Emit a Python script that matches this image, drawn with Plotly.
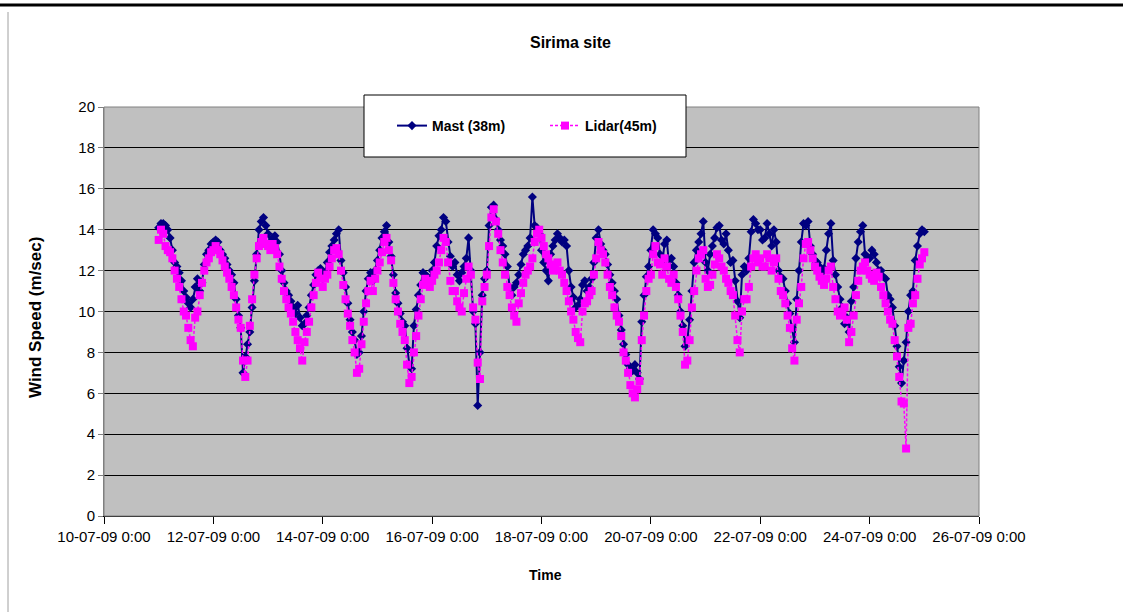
import plotly.graph_objects as go
import pandas as pd

# ---- data (hourly readings from 11-07-09 00:00) ----
start_time = "2009-07-11 00:00"
step = "1h"

mast_38m = [
    14.1, 14.3, 14.3, 14.2, 14.0, 13.6, 13.0, 12.4, 12.2, 11.9, 11.5, 11.0,
    10.7, 10.4, 10.2, 10.6, 11.2, 11.6, 11.0, 11.4, 12.3, 12.8, 13.0, 13.3,   # 11-07
    13.4, 13.5, 13.4, 13.0, 12.8, 12.6, 12.3, 12.0, 11.8, 11.4, 10.6, 9.8,
    9.2, 7.0, 7.8, 8.4, 9.0, 10.2, 11.5, 12.8, 14.0, 14.4, 14.6, 14.2,        # 12-07
    13.8, 13.4, 13.6, 13.7, 13.4, 12.8, 12.0, 11.4, 11.0, 10.8, 10.5, 10.2,
    9.9, 10.3, 9.7, 9.3, 9.4, 9.8, 10.2, 10.8, 11.3, 11.8, 12.0, 12.1,        # 13-07
    11.6, 11.9, 12.4, 12.9, 13.2, 13.5, 13.8, 14.0, 12.5, 11.9, 11.2, 10.4,
    9.6, 9.0, 8.6, 7.9, 8.0, 8.8, 10.0, 11.0, 11.6, 11.9, 11.5, 12.0,         # 14-07
    12.5, 13.0, 13.6, 13.9, 14.2, 13.4, 12.7, 11.8, 10.9, 10.4, 9.9, 9.5,
    9.3, 8.2, 7.4, 7.2, 9.3, 10.1, 10.8, 11.3, 11.9, 11.8, 11.7, 11.6,        # 15-07
    12.0, 12.4, 13.2, 13.7, 14.0, 14.6, 14.4, 13.4, 12.7, 12.2, 12.4, 11.8,
    11.5, 11.9, 12.2, 12.6, 13.6, 12.0, 10.0, 9.4, 5.4, 8.0, 10.8, 11.6,      # 16-07
    12.0, 14.2, 15.1, 15.2, 14.5, 14.0, 13.5, 13.2, 12.8, 12.2, 11.2, 10.8,
    11.2, 11.4, 11.8, 12.3, 12.8, 13.0, 13.2, 13.6, 15.6, 14.2, 14.1, 13.8,   # 17-07
    13.0, 12.4, 12.0, 11.5, 12.8, 13.2, 13.5, 13.8, 13.6, 13.4, 13.5, 13.2,
    12.0, 11.2, 10.7, 10.2, 10.3, 10.6, 11.3, 11.5, 11.0, 11.2, 11.6, 12.4,   # 18-07
    13.6, 14.0, 13.3, 13.0, 12.8, 12.3, 11.8, 11.4, 11.0, 10.6, 9.8, 9.1,
    8.4, 7.9, 7.4, 7.2, 7.1, 7.4, 7.0, 6.7, 9.5, 10.8, 11.7, 12.2,            # 19-07
    13.0, 14.0, 13.8, 13.6, 12.8, 12.4, 13.3, 13.5, 12.2, 12.6, 12.2, 11.4,
    10.8, 10.0, 9.3, 8.3, 8.6, 9.6, 11.0, 12.4, 13.0, 13.4, 13.8, 14.4,       # 20-07
    12.4, 12.0, 12.8, 13.2, 13.6, 14.1, 14.2, 13.5, 13.3, 13.8, 13.0, 12.4,
    12.5, 11.5, 10.5, 9.7, 11.8, 12.2, 12.0, 12.6, 13.9, 14.5, 14.3, 14.0,    # 21-07
    14.0, 13.5, 13.6, 14.3, 13.8, 13.2, 14.0, 13.4, 12.0, 11.7, 11.6, 11.0,
    10.4, 9.9, 9.2, 8.5, 10.6, 12.0, 13.4, 14.3, 14.2, 14.4, 13.2, 12.8,      # 22-07
    12.5, 12.4, 12.2, 11.9, 12.1, 13.0, 13.8, 14.3, 12.5, 11.8, 11.2, 10.6,
    10.2, 9.4, 9.7, 9.0, 10.5, 11.2, 12.6, 13.4, 13.9, 14.2, 12.8, 12.6,      # 23-07
    12.6, 13.0, 12.8, 12.4, 12.0, 12.0, 11.7, 11.6, 10.8, 10.6, 10.2, 9.3,
    8.3, 7.3, 6.5, 7.6, 8.5, 10.0, 10.8, 11.0, 12.5, 13.2, 13.8, 14.0,        # 24-07
    13.9,                                                                     # 25-07
]

lidar_45m = [
    13.5, 14.0, 13.8, 13.2, 13.0, 12.9, 12.6, 12.0, 11.6, 11.2, 10.6, 10.0,
    9.8, 9.2, 8.6, 8.3, 9.7, 10.0, 10.8, 11.4, 12.0, 12.4, 12.6, 12.9,        # 11-07
    13.0, 13.2, 13.0, 12.8, 12.5, 12.2, 11.9, 11.6, 11.2, 10.8, 10.2, 9.6,
    9.2, 7.6, 6.8, 7.6, 9.3, 10.6, 11.8, 12.6, 13.2, 13.4, 13.6, 13.3,        # 12-07
    13.2, 13.0, 13.3, 13.1, 12.8, 12.2, 11.6, 11.0, 10.6, 10.2, 9.9, 9.5,
    9.0, 8.6, 8.2, 7.6, 8.5, 9.0, 9.5, 10.2, 10.8, 11.4, 11.9, 11.6,          # 13-07
    11.2, 11.6, 11.8, 12.2, 12.6, 13.0, 13.1, 12.8, 12.0, 11.3, 10.6, 9.9,
    9.3, 8.6, 8.0, 7.0, 7.2, 8.4, 9.5, 10.4, 11.0, 11.5, 11.0, 11.6,          # 14-07
    12.0, 12.4, 12.9, 13.4, 13.6, 13.0, 12.5, 11.4, 10.6, 10.0, 9.4, 9.0,
    8.6, 7.4, 6.5, 6.8, 8.0, 8.8, 9.8, 10.6, 11.3, 11.6, 11.4, 11.2,          # 15-07
    11.5, 11.8, 12.0, 12.4, 13.0, 13.6, 13.4, 12.4, 11.5, 11.0, 11.0, 10.5,
    10.2, 10.0, 10.9, 11.6, 12.2, 11.8, 10.2, 9.6, 7.5, 6.7, 10.5, 11.2,      # 16-07
    11.8, 13.2, 14.6, 15.0, 14.4, 13.8, 13.0, 12.4, 11.8, 11.2, 10.8, 10.2,
    9.8, 9.5, 10.4, 10.9, 11.4, 11.8, 12.0, 12.2, 12.6, 13.4, 13.8, 14.0,     # 17-07
    13.6, 13.2, 12.8, 12.6, 12.3, 12.0, 12.2, 12.4, 12.0, 11.8, 11.4, 11.0,
    10.5, 10.0, 9.6, 9.0, 8.7, 8.5, 10.0, 10.4, 10.5, 10.8, 11.0, 11.8,       # 18-07
    12.6, 13.4, 13.0, 12.8, 12.4, 11.8, 11.2, 10.8, 10.2, 9.8, 9.5, 8.8,
    8.0, 7.6, 7.0, 6.4, 6.0, 5.8, 6.2, 6.6, 8.6, 9.8, 11.0, 11.6,             # 19-07
    11.8, 12.8, 13.2, 12.4, 12.3, 11.8, 12.6, 12.2, 11.6, 11.4, 11.8, 11.2,
    10.6, 9.8, 9.0, 7.4, 7.6, 8.6, 10.2, 11.0, 12.0, 12.6, 12.8, 13.0,        # 20-07
    11.6, 11.2, 11.3, 11.8, 12.3, 12.8, 12.6, 12.2, 12.0, 11.6, 11.4, 11.0,
    10.8, 9.8, 8.6, 8.0, 10.0, 10.6, 10.6, 11.2, 12.2, 12.6, 12.8, 12.4,      # 21-07
    12.6, 12.2, 12.2, 12.8, 12.6, 12.0, 12.4, 12.6, 11.6, 11.0, 10.8, 10.4,
    9.8, 9.2, 8.2, 7.6, 9.6, 10.4, 11.2, 12.6, 13.3, 13.4, 13.0, 12.6,        # 22-07
    12.2, 12.0, 11.7, 11.5, 11.3, 11.6, 12.0, 12.2, 11.2, 10.6, 10.0, 9.8,
    9.9, 10.2, 9.6, 8.5, 9.0, 9.8, 10.8, 11.5, 12.0, 12.2, 12.4, 12.0,        # 23-07
    11.8, 11.6, 11.5, 11.9, 11.7, 11.2, 10.8, 10.4, 10.0, 9.6, 9.4, 8.6,
    7.8, 6.8, 5.6, 5.5, 3.3, 9.2, 9.4, 10.4, 10.8, 11.6, 12.3, 12.6,          # 24-07
    12.9,                                                                     # 25-07
]

tick_dates = ["2009-07-10", "2009-07-12", "2009-07-14", "2009-07-16",
              "2009-07-18", "2009-07-20", "2009-07-22", "2009-07-24", "2009-07-26"]
tick_labels = ["10-07-09 0:00", "12-07-09 0:00", "14-07-09 0:00", "16-07-09 0:00",
               "18-07-09 0:00", "20-07-09 0:00", "22-07-09 0:00", "24-07-09 0:00",
               "26-07-09 0:00"]
y_ticks = [0, 2, 4, 6, 8, 10, 12, 14, 16, 18, 20]

times = pd.date_range(start_time, periods=len(mast_38m), freq=step)

FONT = "Liberation Sans, Arial, sans-serif"

fig = go.Figure()
fig.add_trace(go.Scatter(
    x=times, y=mast_38m, name="Mast (38m)", mode="lines+markers",
    line=dict(color="#000080", width=2),
    marker=dict(symbol="diamond", size=7, color="#000080"),
))
fig.add_trace(go.Scatter(
    x=times, y=lidar_45m, name="Lidar(45m)", mode="lines+markers",
    line=dict(color="#FF00FF", width=1.5, dash="3px,2px"),
    marker=dict(symbol="square", size=8, color="#FF00FF"),
))

W, H = 1123, 612
L, R, T, B = 104, 144, 107, 96
pw, ph = W - L - R, H - T - B

def px(x):
    return (x - L) / pw

def py(y):
    return (H - B - y) / ph

fig.update_layout(
    width=W, height=H, autosize=False,
    margin=dict(l=L, r=R, t=T, b=B, pad=0),
    paper_bgcolor="white", plot_bgcolor="#C0C0C0",
    font=dict(family=FONT, size=15, color="black"),
    showlegend=True,
    legend=dict(orientation="h", x=px(392), y=py(126), xanchor="left", yanchor="middle",
                bgcolor="rgba(0,0,0,0)", borderwidth=0,
                font=dict(family=FONT, size=14, color="black", weight="bold"),
                entrywidth=108, entrywidthmode="pixels", itemclick=False),
    xaxis=dict(type="date", range=["2009-07-10", "2009-07-26"],
               tickmode="array", tickvals=tick_dates, ticktext=tick_labels,
               ticks="outside", ticklen=7, tickcolor="black", tickwidth=1,
               showline=True, linecolor="black", linewidth=1,
               showgrid=False, zeroline=False,
               tickfont=dict(family=FONT, size=15, color="black")),
    yaxis=dict(range=[0, 20], tickmode="array", tickvals=y_ticks,
               ticks="outside", ticklen=5, tickcolor="#808080",
               showline=True, linecolor="#808080", linewidth=1,
               showgrid=True, gridcolor="#000000", gridwidth=1, zeroline=False,
               tickfont=dict(family=FONT, size=15, color="black")),
    annotations=[
        dict(text="<b>Sirima site</b>", x=px(570), y=py(42), xref="paper", yref="paper",
             showarrow=False, font=dict(family=FONT, size=16, color="black"),
             xanchor="center", yanchor="middle"),
        dict(text="<b>Time</b>", x=px(545), y=py(575), xref="paper", yref="paper",
             showarrow=False, font=dict(family=FONT, size=14, color="black"),
             xanchor="center", yanchor="middle"),
        dict(text="<b>Wind Speed (m/sec)</b>", x=px(35), y=py(318), xref="paper", yref="paper",
             showarrow=False, textangle=-90, font=dict(family=FONT, size=17, color="black"),
             xanchor="center", yanchor="middle"),
    ],
    shapes=[
        # plot area border
        dict(type="rect", xref="paper", yref="paper", x0=0, x1=1, y0=0, y1=1,
             line=dict(color="#808080", width=1), fillcolor="rgba(0,0,0,0)", layer="above"),
        # legend box
        dict(type="rect", xref="paper", yref="paper", x0=px(364), x1=px(686),
             y0=py(157), y1=py(95), line=dict(color="black", width=1),
             fillcolor="white", layer="above"),
        # page decorations
        dict(type="line", xref="paper", yref="paper", x0=px(0), x1=px(1123),
             y0=py(5), y1=py(5), line=dict(color="black", width=3)),
        dict(type="line", xref="paper", yref="paper", x0=px(8), x1=px(8),
             y0=py(12), y1=py(612), line=dict(color="#A0A0A0", width=1)),
    ],
)

fig.write_html("out.html", config={"displayModeBar": False},
               post_script="document.body.style.margin='0px';")
